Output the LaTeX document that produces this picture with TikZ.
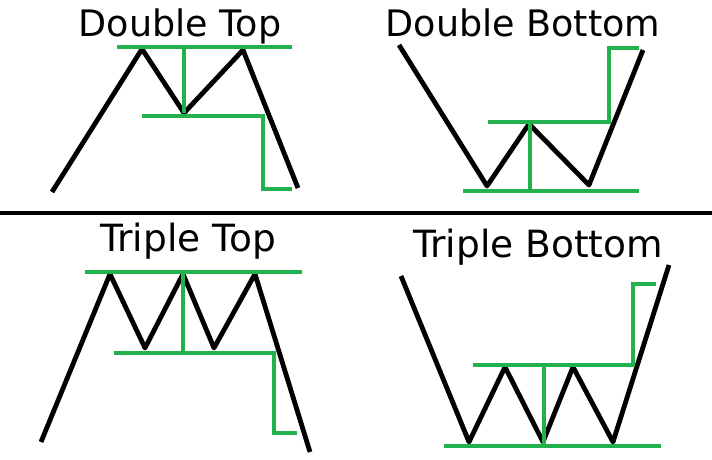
\documentclass[tikz,border=0pt]{standalone}
\usepackage{fontspec}
\setmainfont{DejaVu Sans}
\definecolor{paintgreen}{RGB}{34,177,76}
\tikzset{
  price/.style={line width=4.8pt,black,line join=round},
  level/.style={line width=4.5pt,paintgreen},
  title/.style={anchor=base,inner sep=0pt,font=\fontsize{36.5}{40}\selectfont}
}

\begin{document}
\begin{tikzpicture}[x=1pt,y=-1pt]
 \useasboundingbox[fill=white](0,0) rectangle (712,460);
 % titles
 \node[title] (dtop) at (180,37) {Double Top};
 \node[title] (dbottom) at (523,37) {Double Bottom};
 \node[title,font=\fontsize{37.5}{41}\selectfont] (ttop) at (188,251) {Triple Top};
 \node[title,font=\fontsize{37.5}{41}\selectfont] (tbottom) at (538,257) {Triple Bottom};
 % separator
 \draw[line width=4pt](0,213)--(712,213);
 % double top
 \draw[price](52,192)--(142,49)--(184,113)--(243,50)--(298,188);
 \draw[level](117,47)--(292,47);
 \draw[level](184,47)--(184,113);
 \draw[level](142,116)--(263,116)--(263,189)--(292,189);
 % double bottom
 \draw[price](399,45)--(487,186)--(529,124)--(589,185)--(643,50);
 \draw[level](463,191)--(639,191);
 \draw[level](530,122)--(530,191);
 \draw[level](488,122)--(609,122)--(609,48)--(639,48);
 % triple top
 \draw[price](41,442)--(110,274)--(145,348)--(183,274)--(214,348)--(255,274)--(310,452);
 \draw[level](85,272)--(302,272);
 \draw[level](183,272)--(183,353);
 \draw[level](114,353)--(274,353)--(274,433)--(297,433);
 % triple bottom
 \draw[price](401,276)--(469,442)--(505,367)--(543,442)--(573,367)--(613,442)--(669,265);
 \draw[level](444,446)--(661,446);
 \draw[level](544,365)--(544,446);
 \draw[level](473,365)--(633,365)--(633,284)--(656,284);
\end{tikzpicture}
\end{document}
